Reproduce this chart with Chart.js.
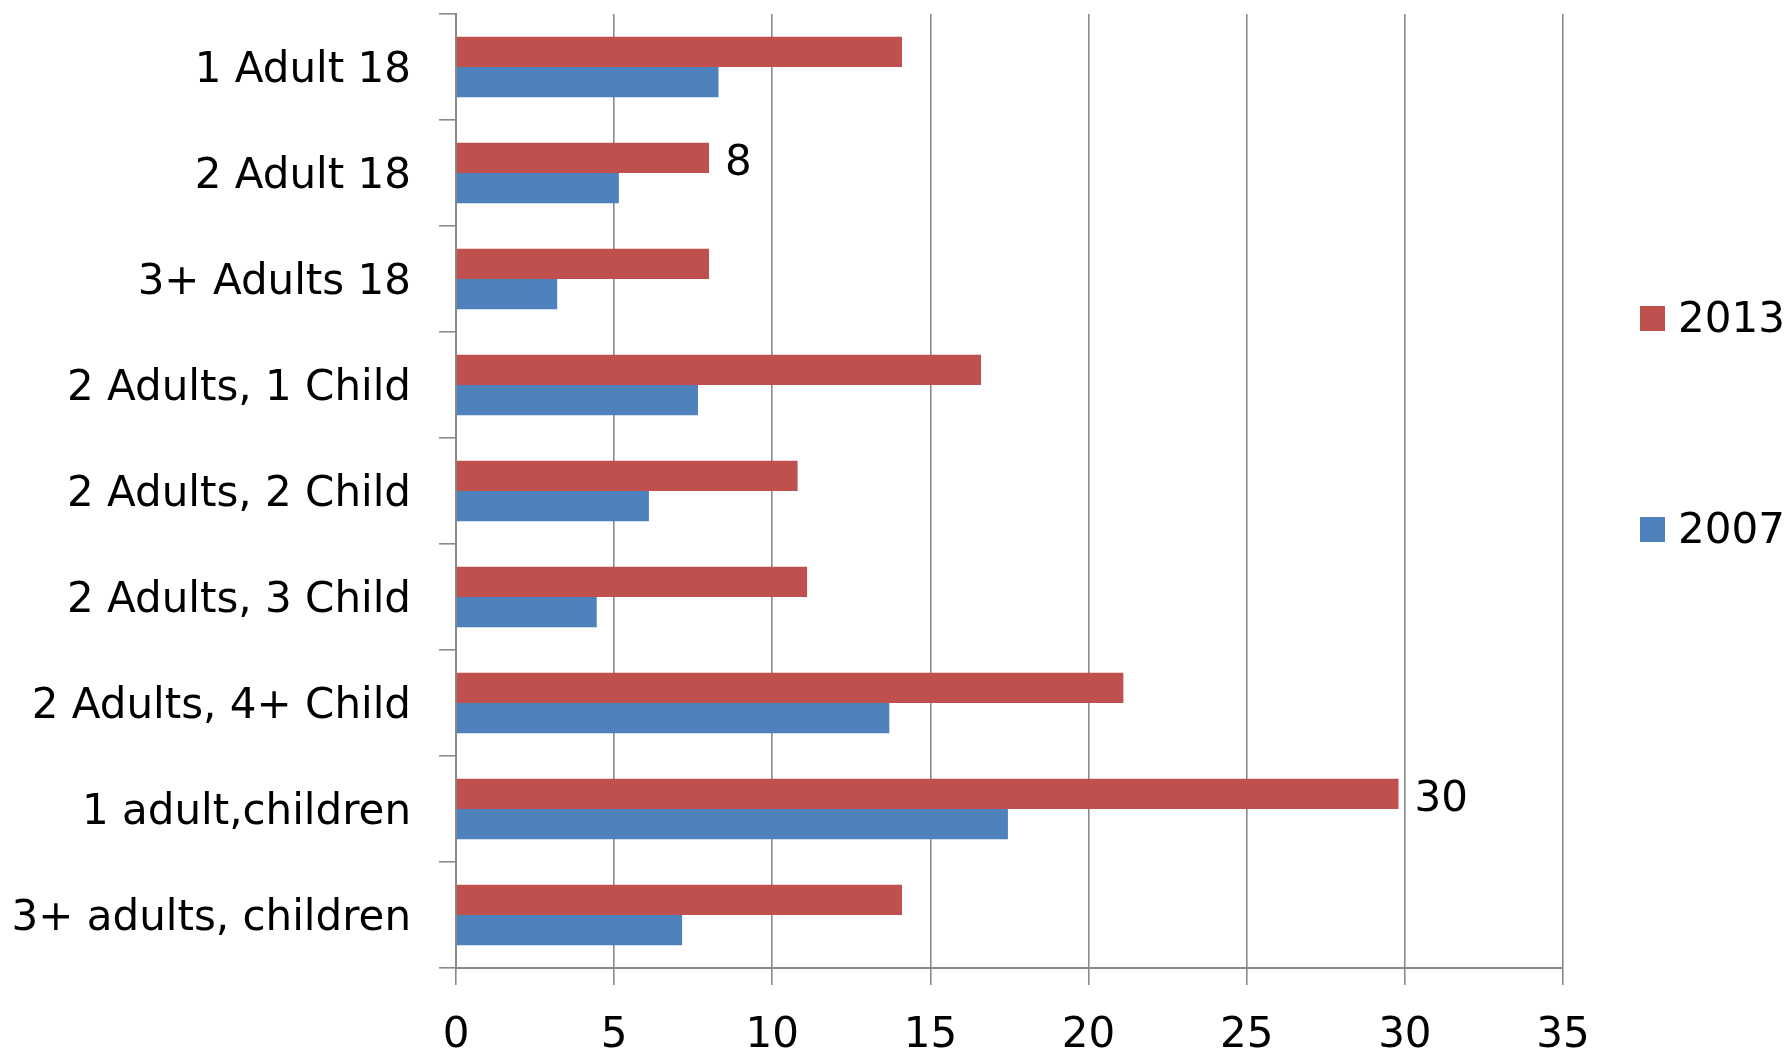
<!DOCTYPE html>
<html>
<head>
<meta charset="utf-8">
<title>Households</title>
<script src="https://cdn.jsdelivr.net/npm/chart.js@4.4.1/dist/chart.umd.min.js"></script>
<style>
  html, body { margin: 0; padding: 0; background: #fff; }
  #wrap { width: 1785px; height: 1052px; }
</style>
</head>
<body>
<div id="wrap"><canvas id="householdChart" width="1785" height="1052"></canvas></div>
<script>
const categories = [
  '1 Adult 18', '2 Adult 18', '3+ Adults 18',
  '2 Adults, 1 Child', '2 Adults, 2 Child', '2 Adults, 3 Child',
  '2 Adults, 4+ Child', '1 adult,children', '3+ adults, children'
];
const values2013 = [14.1, 8, 8, 16.6, 10.8, 11.1, 21.1, 29.8, 14.1];
const values2007 = [8.3, 5.15, 3.2, 7.65, 6.1, 4.45, 13.7, 17.45, 7.15];
const xTicks = [0, 5, 10, 15, 20, 25, 30, 35];
// only these 2013 bars carry a value label
const labelled2013 = [1, 7];

const FONT = 'DejaVu Sans';
const FONT_SIZE = 42;
const GRID = '#8a8a8a';

// value labels next to selected bars
const valueLabels = {
  id: 'valueLabels',
  afterDatasetsDraw(chart) {
    const ctx = chart.ctx;
    const meta = chart.getDatasetMeta(0);
    ctx.save();
    ctx.font = FONT_SIZE + 'px "' + FONT + '"';
    ctx.fillStyle = '#000';
    ctx.textAlign = 'left';
    ctx.textBaseline = 'middle';
    labelled2013.forEach(i => {
      const bar = meta.data[i];
      const v = chart.data.datasets[0].data[i];
      ctx.fillText(String(Math.round(v)), bar.x + 16, bar.y + 6);
    });
    ctx.restore();
  }
};

// legend on the right, items spread apart
const sideLegend = {
  id: 'sideLegend',
  afterDraw(chart) {
    const ctx = chart.ctx;
    const rows = [318, 529];
    ctx.save();
    ctx.font = FONT_SIZE + 'px "' + FONT + '"';
    ctx.textAlign = 'left';
    ctx.textBaseline = 'middle';
    chart.data.datasets.forEach((ds, i) => {
      const y = rows[i];
      ctx.fillStyle = ds.backgroundColor;
      ctx.fillRect(1640, y - 12, 25, 25);
      ctx.fillStyle = '#000';
      ctx.fillText(ds.label, 1678, y + 3);
    });
    ctx.restore();
  }
};

new Chart(document.getElementById('householdChart').getContext('2d'), {
  type: 'bar',
  data: {
    labels: categories,
    datasets: [
      {
        label: '2013',
        data: values2013,
        backgroundColor: '#C0504D',
        categoryPercentage: 0.57,
        barPercentage: 1.0
      },
      {
        label: '2007',
        data: values2007,
        backgroundColor: '#4F81BD',
        categoryPercentage: 0.57,
        barPercentage: 1.0
      }
    ]
  },
  options: {
    indexAxis: 'y',
    responsive: false,
    animation: false,
    layout: {
      padding: { top: 14, right: 222, bottom: 0, left: 0 }
    },
    scales: {
      x: {
        min: 0,
        max: 35,
        afterBuildTicks(scale) {
          scale.ticks = xTicks.map(v => ({ value: v }));
        },
        afterFit(scale) { scale.height = 84; },
        grid: {
          color: GRID,
          lineWidth: 1.6,
          tickLength: 17,
          drawTicks: true
        },
        border: { color: GRID, width: 2 },
        ticks: {
          color: '#000',
          padding: 26,
          font: { family: FONT, size: FONT_SIZE }
        }
      },
      y: {
        afterFit(scale) {
          scale.width = 456;
          scale.paddingTop = 0;
          scale.paddingBottom = 0;
        },
        grid: {
          offset: true,
          drawOnChartArea: false,
          color: GRID,
          lineWidth: 1.6,
          tickLength: 17
        },
        border: { color: GRID, width: 2 },
        ticks: {
          color: '#000',
          padding: 28,
          labelOffset: 4,
          font: { family: FONT, size: FONT_SIZE }
        }
      }
    },
    plugins: {
      legend: { display: false },
      tooltip: { enabled: false }
    }
  },
  plugins: [valueLabels, sideLegend]
});
</script>
</body>
</html>
